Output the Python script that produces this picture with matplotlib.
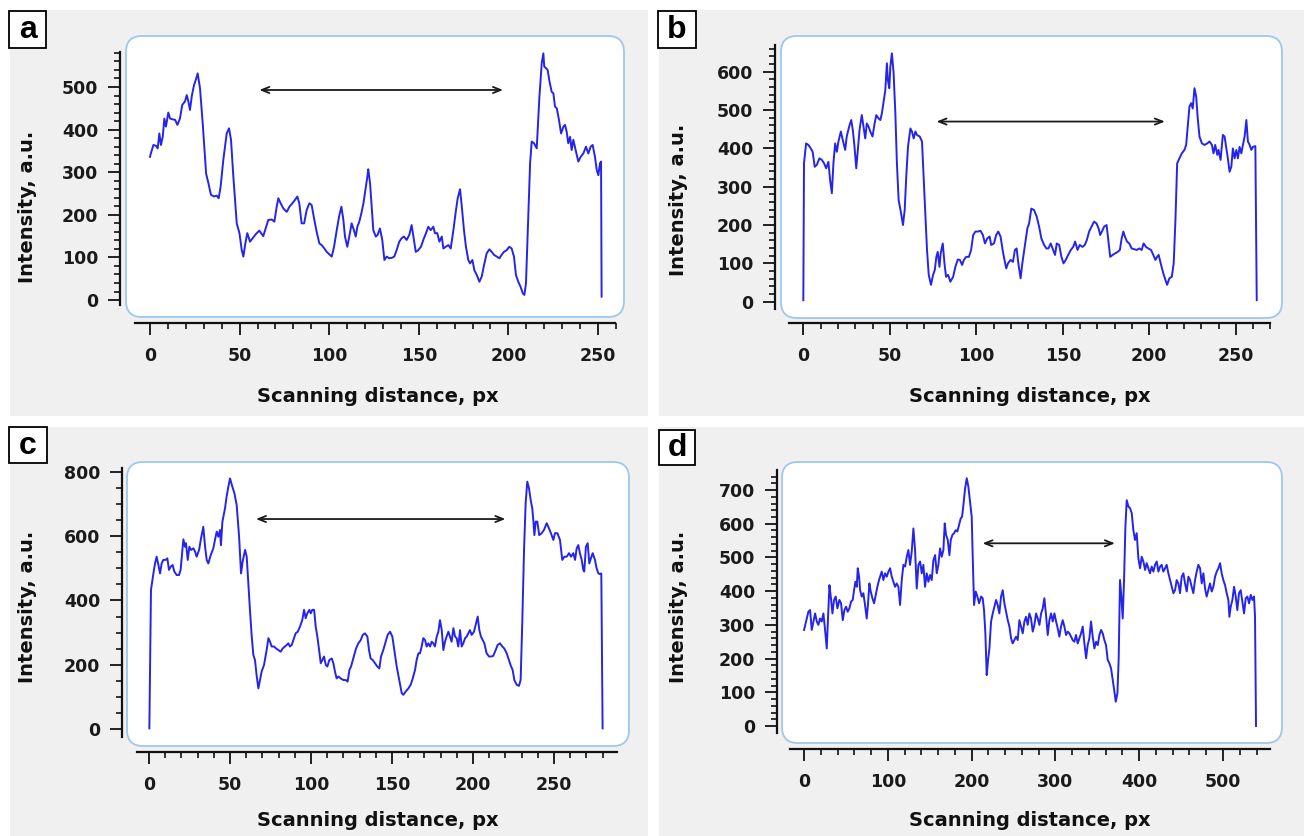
import numpy as np
import matplotlib.pyplot as plt
import matplotlib.transforms as mtransforms
from matplotlib.patches import FancyBboxPatch, Rectangle
from matplotlib.ticker import FixedLocator

plt.rcParams['font.family'] = ['DejaVu Sans']
plt.rcParams['font.weight'] = 'bold'

# line profiles: (scanning distance px, intensity a.u.)
profile_a = [
    (0, 336), (0.4, 343), (1.9, 364), (3.3, 362), (4.3, 356), (5.2, 391), (6.1, 364), (7.1, 383), (8.0, 426), (8.9, 407),
    (10.2, 440), (11.2, 426), (12.7, 424), (14.0, 423), (15.3, 411), (16.7, 426), (18.0, 458), (19.5, 466), (20.5, 481), (21.4, 466),
    (22.3, 446), (23.4, 481), (24.6, 505), (25.5, 516), (26.6, 532), (27.9, 497), (29.4, 415), (31.3, 297), (32.6, 274), (34.0, 247),
    (35.7, 243), (37.2, 245), (38.3, 239), (39.4, 266), (40.9, 329), (42.8, 391), (44.1, 403), (45.2, 376), (46.5, 290), (48.4, 180),
    (49.9, 157), (51.2, 117), (52.1, 102), (53.2, 133), (54.3, 157), (55.8, 137), (57.3, 145), (59.1, 155), (61.0, 163), (62.3, 155),
    (63.2, 150), (64.5, 168), (66.0, 188), (67.9, 189), (69.4, 184), (70.7, 219), (71.6, 239), (72.9, 227), (74.4, 215), (76.3, 207),
    (77.8, 219), (79.4, 227), (80.9, 235), (82.2, 243), (83.3, 227), (84.6, 180), (86.0, 180), (87.4, 211), (88.9, 227), (90.2, 223),
    (91.7, 188), (93.0, 160), (94.5, 133), (95.8, 129), (97.3, 121), (98.6, 113), (99.9, 108), (101.4, 102), (102.7, 125), (104.2, 164),
    (105.5, 196), (106.8, 219), (107.9, 188), (108.8, 149), (110.1, 125), (111.2, 149), (112.5, 180), (113.8, 164), (114.8, 149), (115.7, 172),
    (116.8, 184), (117.9, 203), (119.1, 227), (120.2, 258), (121.3, 290), (121.8, 307), (122.8, 274), (123.7, 219), (124.6, 164), (126.0, 149),
    (127.0, 153), (128.3, 168), (129.6, 141), (130.8, 94), (132.1, 102), (133.4, 98), (134.9, 99), (136.3, 102), (137.6, 117), (139.1, 137),
    (140.4, 145), (141.7, 149), (143.2, 141), (144.7, 153), (146.0, 176), (147.0, 149), (148.3, 113), (149.7, 117), (151.2, 125), (152.5, 141),
    (154.0, 157), (155.3, 172), (156.6, 164), (158.1, 172), (159.0, 157), (160.3, 157), (161.5, 137), (162.8, 149), (163.7, 121), (165.0, 125),
    (166.5, 129), (167.8, 121), (169.3, 164), (170.6, 207), (171.7, 239), (173.0, 260), (174.0, 219), (175.2, 164), (176.3, 125), (177.6, 94),
    (178.6, 86), (179.9, 94), (181.0, 70), (182.3, 59), (183.8, 43), (185.1, 55), (186.4, 82), (187.9, 110), (189.4, 119), (190.7, 113),
    (192.0, 106), (193.5, 102), (195.0, 98), (196.2, 106), (197.5, 113), (199.0, 117), (200.5, 125), (201.8, 121), (203.1, 102), (204.2, 59),
    (205.5, 43), (206.8, 31), (208.0, 16), (208.9, 12), (209.8, 39), (211.1, 196), (212.1, 321), (213.0, 372), (214.3, 368), (215.8, 356),
    (217.3, 477), (218.6, 556), (219.5, 579), (220.0, 548), (221.0, 544), (221.9, 540), (222.8, 516), (224.1, 489), (225.1, 485), (226.0, 454),
    (227.0, 450), (228.2, 423), (229.4, 391), (230.7, 407), (231.6, 411), (232.5, 395), (233.4, 368), (234.4, 383), (235.3, 352), (236.2, 376),
    (237.5, 352), (239.0, 325), (240.3, 336), (241.8, 344), (243.3, 360), (244.6, 344), (245.9, 360), (247.0, 364), (248.3, 336), (249.3, 305),
    (250.2, 293), (251.1, 321), (251.7, 325), (252.0, 8),
]

profile_b = [
    (0.0, 4), (0.4, 361), (1.6, 413), (2.9, 409), (4.3, 400), (5.4, 391), (6.6, 352), (7.8, 357), (9.3, 374), (10.7, 370),
    (12.0, 361), (13.2, 348), (14.5, 365), (15.5, 317), (16.5, 283), (17.4, 361), (18.4, 413), (19.4, 391), (20.3, 418), (21.7, 444),
    (22.8, 422), (24.2, 396), (25.1, 431), (26.5, 457), (27.7, 474), (28.6, 448), (29.6, 404), (30.6, 348), (31.5, 396), (32.5, 448),
    (33.8, 487), (34.8, 457), (35.8, 426), (36.7, 465), (37.7, 457), (38.7, 444), (40.0, 431), (41.2, 465), (42.2, 487), (43.5, 478),
    (44.5, 474), (45.4, 491), (46.4, 522), (47.4, 552), (48.3, 622), (48.9, 578), (49.7, 557), (50.3, 613), (51.2, 648), (52.2, 596),
    (53.2, 491), (54.1, 361), (55.1, 265), (56.5, 231), (57.6, 200), (58.6, 239), (59.5, 326), (60.5, 404), (61.9, 452), (62.8, 444),
    (63.8, 426), (64.8, 444), (65.7, 435), (67.3, 431), (68.6, 418), (69.6, 317), (70.6, 222), (71.5, 135), (72.5, 70), (73.8, 44),
    (75.0, 70), (76.0, 83), (76.9, 117), (77.7, 130), (78.7, 91), (79.4, 126), (80.6, 152), (81.6, 100), (82.5, 65), (83.7, 70),
    (85.0, 52), (86.6, 65), (87.9, 91), (89.3, 110), (90.5, 109), (91.8, 96), (92.8, 109), (94.1, 117), (95.7, 117), (97.0, 135),
    (98.2, 174), (99.5, 183), (100.9, 183), (102.4, 185), (103.8, 174), (105.0, 152), (106.3, 165), (107.7, 170), (108.6, 148), (110.2, 152),
    (111.5, 174), (112.7, 183), (114.0, 170), (115.4, 130), (116.5, 104), (117.3, 87), (118.3, 100), (119.8, 109), (121.2, 104), (122.3, 135),
    (123.3, 139), (124.3, 100), (125.6, 61), (126.6, 100), (128.0, 143), (129.5, 191), (130.5, 204), (131.8, 243), (133.4, 239), (134.9, 222),
    (136.3, 196), (137.6, 165), (139.2, 148), (140.5, 139), (141.7, 139), (143.0, 152), (144.4, 135), (145.5, 122), (146.5, 152), (147.9, 148),
    (149.2, 117), (150.4, 100), (151.7, 109), (153.1, 122), (154.6, 135), (156.0, 143), (157.1, 157), (158.5, 135), (159.8, 148), (161.4, 143),
    (162.7, 148), (163.9, 161), (165.2, 183), (166.6, 196), (168.1, 209), (169.5, 204), (170.7, 191), (171.6, 174), (172.6, 183), (173.9, 196),
    (175.3, 200), (176.5, 152), (177.4, 117), (178.8, 122), (180.3, 126), (181.7, 130), (183.0, 135), (184.0, 165), (185.0, 183), (185.9, 170),
    (187.1, 157), (188.4, 152), (189.8, 139), (191.3, 137), (192.7, 135), (194.2, 139), (195.6, 135), (196.7, 152), (198.1, 143), (199.4, 139),
    (201.0, 135), (202.3, 122), (203.5, 109), (204.5, 117), (205.4, 122), (206.8, 96), (208.1, 74), (209.3, 57), (210.3, 44), (211.6, 61),
    (213.0, 65), (214.1, 100), (215.1, 213), (216.1, 361), (217.4, 374), (218.8, 387), (220.3, 396), (221.3, 409), (222.2, 457), (223.2, 509),
    (224.2, 518), (225.1, 504), (226.1, 557), (227.1, 535), (228.0, 478), (229.0, 431), (230.4, 413), (231.9, 409), (233.5, 413), (234.8, 418),
    (236.2, 409), (237.1, 387), (238.1, 409), (239.3, 383), (240.0, 396), (241.2, 370), (242.5, 435), (243.5, 431), (244.5, 400), (245.4, 374),
    (246.4, 339), (247.4, 352), (248.3, 400), (249.3, 374), (250.3, 396), (251.2, 374), (252.2, 404), (253.2, 387), (254.1, 409), (255.1, 431),
    (256.1, 474), (257.0, 418), (258.0, 409), (259.0, 396), (259.9, 404), (261.3, 406), (262.1, 4),
]

profile_c = [
    (0.2, 3), (1.2, 433), (2.7, 484), (3.7, 515), (4.7, 536), (5.8, 510), (6.8, 484), (7.8, 515), (8.8, 526), (10.3, 526),
    (11.3, 531), (12.3, 495), (13.4, 505), (14.6, 510), (15.6, 490), (17.1, 479), (18.5, 479), (19.5, 495), (20.6, 557), (21.2, 590),
    (22.2, 567), (22.8, 578), (23.9, 526), (24.9, 567), (25.9, 557), (27.4, 562), (28.4, 552), (29.4, 536), (30.9, 557), (32.1, 593),
    (33.5, 629), (34.6, 567), (35.6, 526), (36.6, 515), (38.1, 541), (39.7, 562), (40.7, 588), (41.8, 614), (42.8, 598), (43.8, 619),
    (44.4, 572), (45.3, 645), (45.9, 660), (46.9, 686), (47.9, 723), (49.0, 754), (50.0, 779), (51.4, 754), (52.7, 733), (54.1, 697),
    (55.6, 598), (56.8, 484), (57.8, 521), (59.3, 557), (60.3, 536), (61.3, 453), (62.3, 371), (63.4, 288), (64.4, 231), (65.4, 215),
    (66.5, 164), (67.5, 127), (68.5, 153), (69.5, 179), (71.0, 200), (72.6, 246), (73.7, 283), (74.7, 272), (75.7, 257), (77.2, 257),
    (78.4, 251), (79.8, 246), (81.3, 241), (82.5, 251), (83.9, 257), (85.0, 262), (86.0, 267), (87.0, 257), (88.1, 262), (89.1, 277),
    (90.5, 298), (91.8, 303), (93.2, 319), (94.6, 339), (95.7, 371), (96.7, 345), (97.7, 360), (99.0, 371), (99.8, 360), (100.8, 371),
    (101.9, 371), (102.9, 319), (103.9, 288), (105.0, 246), (106.0, 205), (107.0, 215), (108.0, 226), (109.1, 200), (110.1, 195), (111.3, 215),
    (112.8, 220), (113.8, 205), (114.8, 179), (115.8, 158), (116.9, 164), (118.3, 158), (120.0, 153), (121.4, 153), (122.6, 148), (123.7, 184),
    (124.7, 195), (126.1, 220), (127.8, 251), (129.2, 267), (130.7, 277), (131.9, 293), (133.3, 298), (134.8, 288), (135.8, 246), (136.8, 220),
    (138.1, 215), (139.5, 205), (140.9, 195), (142.2, 189), (143.2, 226), (144.6, 246), (146.1, 272), (147.3, 293), (148.8, 303), (150.2, 288),
    (151.4, 246), (152.9, 195), (154.5, 153), (156.0, 112), (157.0, 107), (158.4, 117), (160.1, 127), (161.5, 138), (162.8, 158), (164.2, 184),
    (165.2, 215), (166.3, 236), (167.3, 236), (168.3, 257), (169.3, 283), (170.4, 277), (171.4, 257), (172.4, 267), (173.5, 257), (174.5, 272),
    (175.5, 267), (176.5, 257), (177.6, 288), (178.6, 303), (179.6, 339), (180.7, 308), (181.7, 246), (182.7, 272), (183.7, 288), (184.8, 303),
    (185.8, 288), (186.8, 272), (187.9, 314), (188.9, 288), (189.9, 283), (190.9, 257), (192.0, 308), (193.0, 257), (194.0, 267), (195.1, 283),
    (196.1, 288), (197.1, 298), (198.1, 308), (199.2, 293), (200.6, 303), (201.9, 329), (202.9, 350), (203.9, 308), (204.9, 288), (206.0, 277),
    (207.0, 267), (208.4, 236), (209.9, 226), (211.1, 226), (212.5, 228), (214.0, 246), (215.2, 262), (216.7, 267), (218.1, 257), (219.3, 251),
    (220.8, 236), (222.2, 215), (223.5, 195), (224.5, 184), (225.5, 153), (227.0, 138), (228.4, 135), (229.4, 153), (230.4, 329), (231.5, 557),
    (232.5, 702), (233.5, 769), (234.6, 748), (235.6, 712), (236.6, 686), (237.2, 650), (237.9, 603), (238.7, 645), (239.7, 645), (240.9, 603),
    (242.4, 609), (243.8, 619), (245.5, 640), (246.9, 624), (248.1, 609), (249.6, 588), (250.6, 609), (252.1, 609), (253.7, 588), (255.1, 526),
    (256.4, 536), (257.8, 536), (259.3, 547), (260.5, 536), (261.9, 547), (263.0, 526), (264.0, 562), (265.0, 572), (266.0, 547), (267.1, 526),
    (268.1, 495), (268.7, 490), (269.7, 567), (270.8, 578), (271.8, 515), (272.8, 531), (273.9, 547), (275.3, 526), (276.3, 500), (277.4, 484),
    (278.4, 482), (279.2, 484), (280.0, 3),
]

profile_d = [
    (0, 285), (2.4, 310), (5.2, 339), (7.2, 344), (9.2, 285), (11.2, 310), (13.2, 334), (15.2, 310), (17.1, 300), (19.1, 319),
    (21.1, 310), (23.1, 334), (25.1, 285), (27.1, 230), (29.1, 344), (30.3, 418), (31.9, 384), (33.9, 334), (35.8, 374), (37.8, 384),
    (39.8, 349), (42.2, 374), (44.2, 364), (46.2, 314), (48.2, 344), (50.2, 354), (52.1, 339), (54.1, 349), (56.1, 369), (58.1, 374),
    (59.7, 403), (61.3, 428), (62.9, 413), (64.1, 468), (65.7, 443), (66.9, 403), (68.9, 384), (70.8, 394), (72.8, 359), (74.8, 319),
    (76.4, 364), (78.0, 423), (79.6, 399), (81.6, 379), (83.6, 364), (85.6, 389), (87.5, 413), (89.5, 433), (91.5, 448), (92.7, 458),
    (94.7, 433), (96.7, 453), (98.7, 443), (100.7, 458), (102.7, 468), (104.7, 443), (106.6, 428), (108.6, 413), (110.6, 423), (112.6, 413),
    (114.6, 359), (116.6, 433), (118.6, 478), (120.6, 473), (122.6, 502), (124.5, 522), (126.5, 478), (128.5, 517), (130.5, 586), (132.5, 522),
    (134.5, 408), (136.5, 478), (138.5, 488), (140.5, 453), (142.4, 478), (144.4, 413), (146.4, 453), (148.4, 428), (150.4, 448), (152.4, 433),
    (154.4, 492), (156.4, 507), (158.4, 453), (160.3, 478), (162.3, 527), (164.3, 502), (166.3, 522), (167.9, 601), (169.5, 567), (171.5, 552),
    (173.5, 507), (175.1, 552), (177.1, 567), (179.0, 572), (181.0, 581), (183.0, 577), (185.0, 596), (187.0, 616), (188.6, 621), (190.2, 656),
    (192.2, 705), (194.2, 735), (196.1, 710), (198.1, 666), (200.1, 621), (201.3, 502), (202.9, 359), (204.9, 399), (206.9, 384), (208.9, 364),
    (211.3, 384), (213.2, 379), (214.8, 344), (216.4, 275), (218.0, 151), (219.6, 196), (221.2, 230), (223.2, 310), (225.2, 334), (227.2, 354),
    (229.2, 374), (231.1, 359), (233.1, 334), (235.1, 384), (237.1, 403), (239.1, 364), (241.1, 339), (243.1, 314), (245.1, 295), (247.1, 260),
    (249.0, 245), (251.0, 255), (253.0, 265), (255.0, 255), (257.0, 314), (259.0, 295), (261.0, 275), (263.0, 310), (264.9, 324), (266.9, 300),
    (268.9, 334), (270.9, 319), (272.9, 280), (274.9, 300), (276.9, 334), (278.9, 319), (280.9, 300), (282.9, 334), (284.9, 349), (286.8, 379),
    (288.8, 329), (290.8, 270), (292.8, 314), (294.8, 334), (296.8, 310), (298.8, 334), (300.8, 310), (302.7, 290), (304.7, 265), (306.7, 295),
    (308.7, 314), (310.7, 295), (312.7, 270), (314.7, 280), (316.7, 275), (318.7, 265), (320.6, 255), (322.6, 250), (324.6, 270), (326.6, 245),
    (328.6, 260), (330.6, 275), (332.6, 295), (334.6, 245), (336.6, 201), (338.5, 240), (340.5, 260), (342.5, 310), (344.5, 265), (346.5, 230),
    (348.5, 250), (350.5, 240), (352.5, 270), (354.5, 285), (356.4, 275), (358.4, 255), (360.4, 240), (362.4, 196), (364.4, 186), (366.4, 171),
    (368.4, 137), (370.4, 102), (372.0, 72), (374.0, 97), (375.5, 201), (377.1, 433), (378.7, 384), (380.3, 319), (381.9, 433), (383.5, 591),
    (385.1, 670), (387.1, 651), (389.1, 646), (391.1, 631), (393.0, 581), (395.0, 552), (397.0, 572), (399.0, 497), (401.0, 468), (403.0, 502),
    (405.0, 488), (407.0, 463), (408.9, 483), (410.9, 468), (412.9, 453), (414.9, 473), (416.9, 458), (418.9, 478), (420.9, 488), (422.9, 458),
    (424.9, 473), (426.8, 478), (428.8, 458), (430.8, 468), (432.8, 478), (434.8, 453), (436.8, 433), (438.8, 413), (440.8, 394), (442.8, 403),
    (444.7, 433), (446.7, 423), (448.7, 394), (450.7, 443), (452.7, 453), (454.7, 423), (456.7, 399), (458.7, 443), (460.7, 433), (462.6, 413),
    (464.6, 394), (466.6, 433), (468.6, 458), (470.6, 478), (472.6, 468), (474.6, 423), (476.6, 453), (478.6, 408), (480.5, 384), (482.5, 403),
    (484.5, 423), (486.5, 399), (488.5, 413), (490.5, 443), (492.5, 458), (494.5, 468), (496.5, 483), (498.4, 453), (500.4, 433), (502.4, 418),
    (504.4, 394), (506.4, 374), (507.6, 324), (509.2, 354), (511.2, 374), (513.2, 413), (515.2, 384), (517.1, 344), (519.1, 394), (521.1, 403),
    (523.1, 369), (525.1, 334), (527.1, 379), (529.1, 384), (531.1, 364), (533.1, 389), (535.0, 374), (537.0, 384), (538.2, 324), (539.4, 0),
]

# double-headed arrows: (x from, x to, intensity)
arrow_a = (61, 197, 493)
arrow_b = (77, 209, 470)
arrow_c = (66, 220, 653)
arrow_d = (213, 371, 542)

letters = ['a', 'b', 'c', 'd']
xlabel = 'Scanning distance, px'
ylabel = 'Intensity, a.u.'

W, H = 1304, 836
fig = plt.figure(figsize=(W / 100, H / 100), dpi=100)
fig.patch.set_facecolor('white')
# pixel coordinates, origin top-left
pix = mtransforms.Affine2D().scale(1 / W, -1 / H).translate(0, 1) + fig.transFigure

LINE = '#2424ec'
PT = 0.72  # points per pixel at 100 dpi

layout = [
    dict(data=profile_a, arrow=arrow_a, bg=(10, 10, 648, 416), box=(126, 36, 624, 317),
         xlim=(-13.4, 264.5), ylim=(-39.8, 619.7), ybounds=(-12, 582), xbounds=(-8.4, 259.5),
         yticks=(np.arange(0, 501, 100), np.arange(0, 581, 20)),
         xticks=(np.arange(0, 251, 50), np.arange(0, 261, 10)),
         yoff=6, xoff=6, tag=(9, 11, 46, 48), ylab=(28, 207), xlab=(378, 397)),
    dict(data=profile_b, arrow=arrow_b, bg=(659, 10, 1304, 416), box=(781, 36, 1282, 318),
         xlim=(-12.9, 276.7), ylim=(-42.5, 693.2), ybounds=(-20, 670), xbounds=(-8.3, 269.8),
         yticks=(np.arange(0, 601, 100), np.arange(0, 661, 20)),
         xticks=(np.arange(0, 251, 50), np.arange(0, 271, 10)),
         yoff=6, xoff=5, tag=(658, 11, 696, 48), ylab=(678, 200), xlab=(1030, 397)),
    dict(data=profile_c, arrow=arrow_c, bg=(10, 427, 648, 836), box=(127, 462, 629, 746),
         xlim=(-13.6, 296.3), ylim=(-51.9, 830.1), ybounds=(-23, 810), xbounds=(-7.6, 289),
         yticks=(np.arange(0, 801, 200), np.arange(0, 801, 50)),
         xticks=(np.arange(0, 251, 50), np.arange(0, 281, 10)),
         yoff=5, xoff=6, tag=(9, 427, 47, 463), ylab=(28, 607), xlab=(378, 820)),
    dict(data=profile_d, arrow=arrow_d, bg=(659, 427, 1304, 836), box=(782, 462, 1282, 743),
         xlim=(-26.3, 570.4), ylim=(-50.4, 783.2), ybounds=(-21, 759), xbounds=(-16.3, 556),
         yticks=(np.arange(0, 701, 100), np.arange(0, 741, 20)),
         xticks=(np.arange(0, 501, 100), np.arange(0, 541, 20)),
         yoff=5, xoff=6, tag=(659, 430, 695, 465), ylab=(678, 607), xlab=(1030, 820)),
]

for letter, p in zip(letters, layout):
    x0, y0, x1, y1 = p['bg']
    fig.patches.append(Rectangle((x0, y0), x1 - x0, y1 - y0, transform=pix,
                                 facecolor='#f0f0f0', edgecolor='none', zorder=0.1))
    bx0, by0, bx1, by1 = p['box']
    fig.patches.append(FancyBboxPatch((bx0, by0), bx1 - bx0, by1 - by0,
                                      boxstyle='round,pad=0,rounding_size=16', transform=pix,
                                      facecolor='white', edgecolor='#9ec8ea', lw=1.3, zorder=0.2))

    ax = fig.add_axes([bx0 / W, 1 - by1 / H, (bx1 - bx0) / W, (by1 - by0) / H])
    ax.set_zorder(1)
    ax.patch.set_visible(False)
    xs = [q[0] for q in p['data']]
    ys = [q[1] for q in p['data']]
    ax.plot(xs, ys, color=LINE, lw=1.4)
    ax0, ax1, ay = p['arrow']
    ax.annotate('', xy=(ax1, ay), xytext=(ax0, ay),
                arrowprops=dict(arrowstyle='<->,head_length=0.55,head_width=0.22',
                                color='#1a1a1a', lw=1.3, shrinkA=0, shrinkB=0))
    ax.set_xlim(*p['xlim'])
    ax.set_ylim(*p['ylim'])

    for side in ('top', 'right'):
        ax.spines[side].set_visible(False)
    ax.spines['left'].set_position(('outward', p['yoff'] * PT))
    ax.spines['bottom'].set_position(('outward', p['xoff'] * PT))
    ax.spines['left'].set_bounds(*p['ybounds'])
    ax.spines['bottom'].set_bounds(*p['xbounds'])
    for side in ('left', 'bottom'):
        ax.spines[side].set_linewidth(1.6)
        ax.spines[side].set_color('#111111')

    ax.yaxis.set_major_locator(FixedLocator(p['yticks'][0]))
    ax.yaxis.set_minor_locator(FixedLocator(p['yticks'][1]))
    ax.xaxis.set_major_locator(FixedLocator(p['xticks'][0]))
    ax.xaxis.set_minor_locator(FixedLocator(p['xticks'][1]))
    ax.tick_params(which='major', length=12 * PT, width=1.3, color='#111111', labelsize=12.5,
                   labelcolor='#1a1a1a')
    ax.tick_params(which='minor', length=6 * PT, width=1.2, color='#111111')
    ax.tick_params(axis='y', which='major', pad=7)
    ax.tick_params(axis='x', which='major', pad=8.5)

    tx0, ty0, tx1, ty1 = p['tag']
    fig.patches.append(Rectangle((tx0, ty0), tx1 - tx0, ty1 - ty0, transform=pix,
                                 facecolor='white', edgecolor='black', lw=1.3, zorder=2))
    fig.text((tx0 + tx1) / 2, (ty0 + ty1) / 2 + 1, letter, transform=pix, ha='center', va='center',
             fontsize=23, fontweight='bold', family=['Liberation Sans', 'DejaVu Sans'], zorder=3)

    fig.text(p['ylab'][0], p['ylab'][1], ylabel, transform=pix, rotation=90,
             ha='center', va='center', fontsize=14, fontweight='bold', color='#111111')
    fig.text(p['xlab'][0], p['xlab'][1], xlabel, transform=pix,
             ha='center', va='center', fontsize=14, fontweight='bold', color='#111111')

fig.savefig('out.png', dpi=100, facecolor='white')
